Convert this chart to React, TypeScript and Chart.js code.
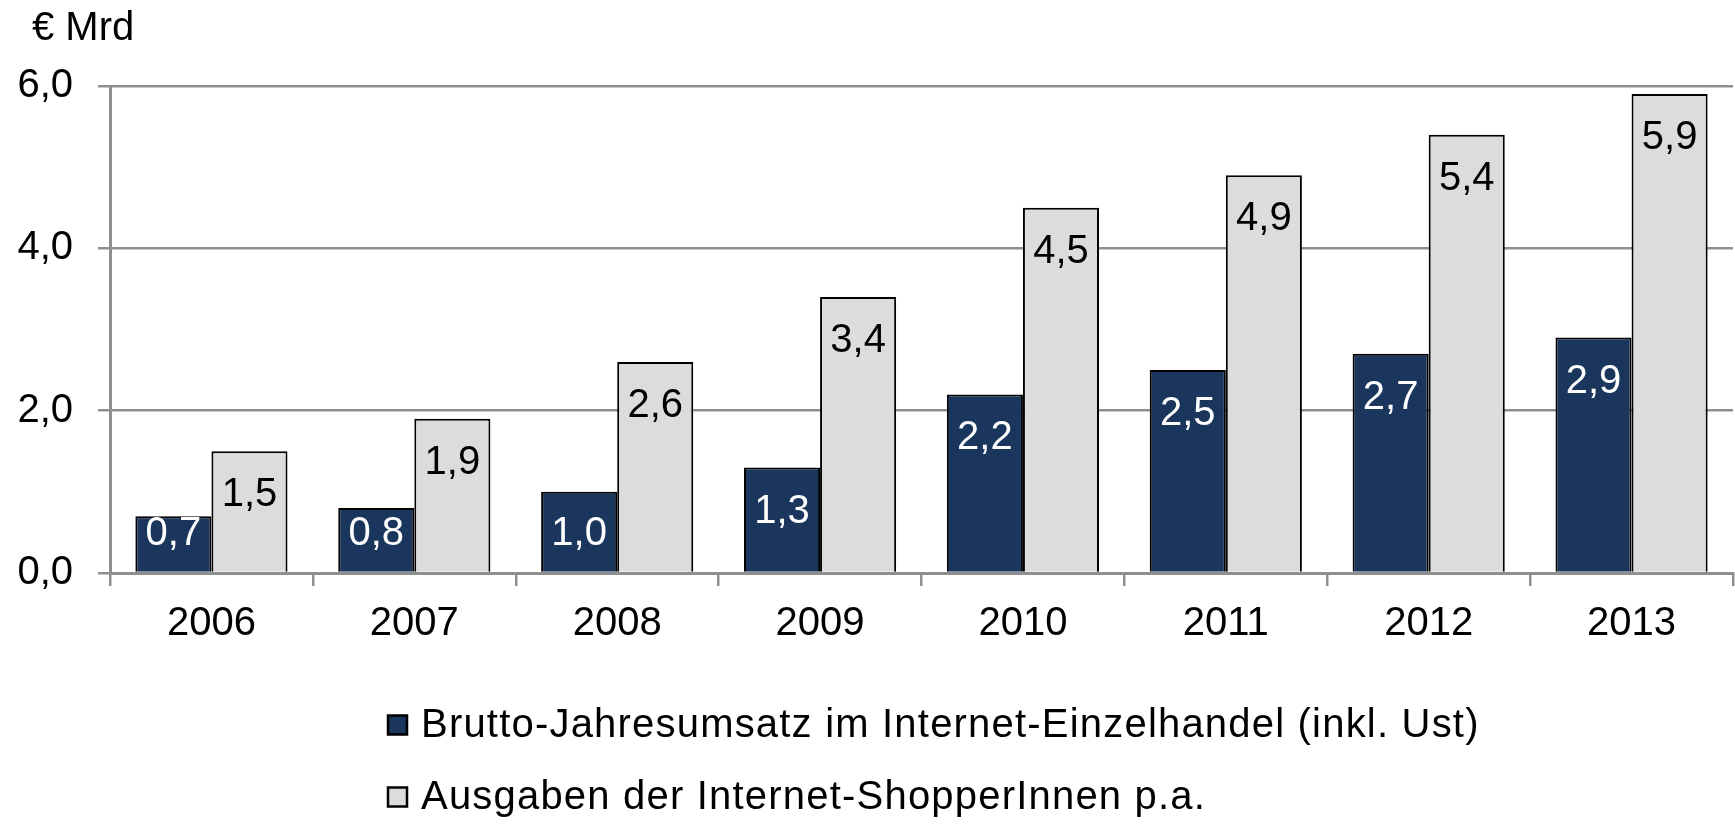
import { useEffect, useRef } from "react";
import { Chart, registerables } from "chart.js";

Chart.register(...registerables);

const categories = ["2006", "2007", "2008", "2009", "2010", "2011", "2012", "2013"];
const umsatzValues = [0.7, 0.8, 1.0, 1.3, 2.2, 2.5, 2.7, 2.9];
const ausgabenValues = [1.5, 1.9, 2.6, 3.4, 4.5, 4.9, 5.4, 5.9];
const seriesNames = [
  "Brutto-Jahresumsatz im Internet-Einzelhandel (inkl. Ust)",
  "Ausgaben der Internet-ShopperInnen p.a.",
];
const yMin = 0;
const yMax = 6;
const yStep = 2;
const unitLabel = "€ Mrd";

const FONT = "'Liberation Sans', Arial, sans-serif";
const DARK = "#1b365d";
const LIGHT = "#dcdcdc";
const GRID = "#8f8f8f";
const seriesColors = [DARK, LIGHT];
const labelColors = ["#ffffff", "#000000"];

const fmt = (v: number) => v.toFixed(1).replace(".", ",");

const decorPlugin = {
  id: "decor",
  afterDatasetsDraw(chart: any) {
    const ctx = chart.ctx as CanvasRenderingContext2D;
    ctx.save();
    ctx.font = `40px ${FONT}`;
    ctx.textAlign = "center";
    ctx.textBaseline = "middle";
    chart.data.datasets.forEach((ds: any, i: number) => {
      const meta = chart.getDatasetMeta(i);
      meta.data.forEach((el: any, j: number) => {
        const { x, y, base } = el.getProps(["x", "y", "base"], true);
        const cy = Math.min(y + 44, base - 38);
        ctx.fillStyle = labelColors[i];
        ctx.fillText(fmt(ds.data[j]), x, cy);
      });
    });

    // unit label above the y axis
    ctx.textAlign = "left";
    ctx.textBaseline = "alphabetic";
    ctx.fillStyle = "#000";
    ctx.fillText(unitLabel, 32, 40);

    // legend (two rows, left aligned)
    const rows = [725, 797];
    const boxX = 388;
    const box = 19;
    ctx.textBaseline = "middle";
    try {
      (ctx as any).letterSpacing = "1.2px";
    } catch (e) {}
    seriesNames.forEach((name, i) => {
      const cy = rows[i];
      ctx.fillStyle = seriesColors[i];
      ctx.fillRect(boxX, cy - box / 2, box, box);
      ctx.lineWidth = 2.5;
      ctx.strokeStyle = "#000";
      ctx.strokeRect(boxX, cy - box / 2, box, box);
      ctx.fillStyle = "#000";
      ctx.fillText(name, 421, cy + 1);
    });
    ctx.restore();
  },
};

export default function App() {
  const canvasRef = useRef<HTMLCanvasElement | null>(null);

  useEffect(() => {
    document.body.style.margin = "0";
    const canvas = canvasRef.current;
    if (!canvas) return;
    const chart = new Chart(canvas, {
      type: "bar",
      data: {
        labels: categories,
        datasets: [
          {
            label: seriesNames[0],
            data: umsatzValues,
            backgroundColor: DARK,
            borderColor: "#000",
            borderWidth: 2,
            categoryPercentage: 0.75,
            barPercentage: 1,
          },
          {
            label: seriesNames[1],
            data: ausgabenValues,
            backgroundColor: LIGHT,
            borderColor: "#000",
            borderWidth: 2,
            categoryPercentage: 0.75,
            barPercentage: 1,
          },
        ],
      },
      options: {
        animation: false,
        responsive: true,
        maintainAspectRatio: false,
        layout: { padding: { left: 0, right: 2, top: 86, bottom: 173 } },
        plugins: {
          legend: { display: false },
          title: { display: false },
          tooltip: { enabled: false },
        },
        scales: {
          x: {
            grid: {
              display: true,
              drawOnChartArea: false,
              drawTicks: true,
              tickLength: 13,
              color: GRID,
              lineWidth: 2.5,
              offset: true,
            },
            border: { display: true, color: GRID, width: 3 },
            ticks: {
              color: "#000",
              font: { family: FONT, size: 40 },
              padding: 14,
              maxRotation: 0,
            },
            afterFit: (scale: any) => {
              scale.height = 80;
            },
          },
          y: {
            min: yMin,
            max: yMax,
            ticks: {
              stepSize: yStep,
              color: "#000",
              font: { family: FONT, size: 40 },
              padding: 25,
              callback: (v: any) => fmt(Number(v)),
            },
            grid: {
              color: GRID,
              lineWidth: 2.5,
              drawTicks: true,
              tickLength: 12,
            },
            border: { display: true, color: GRID, width: 3 },
            afterFit: (scale: any) => {
              scale.width = 110;
            },
          },
        },
      },
      plugins: [decorPlugin],
    });
    return () => chart.destroy();
  }, []);

  return (
    <div style={{ position: "fixed", left: 0, top: 0, width: 1735, height: 826, background: "#fff" }}>
      <canvas ref={canvasRef} />
    </div>
  );
}
